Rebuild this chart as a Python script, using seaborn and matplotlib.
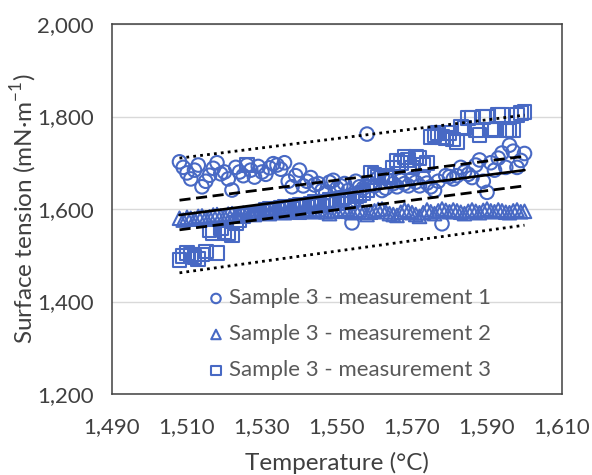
import matplotlib
matplotlib.use('Agg')
import matplotlib.pyplot as plt
import pandas as pd
import seaborn as sns
from matplotlib.ticker import FuncFormatter

# Temperatures (degC) of the measurement points
temperature = list(range(1508, 1601))

# Surface tension of the three measurements (mN/m), one value per degree
measurement_1 = [1702, 1690, 1678, 1665, 1684, 1695, 1648, 1660, 1673, 1688,
                 1700, 1676, 1680, 1665, 1641, 1690, 1680, 1672, 1695, 1684,
                 1669, 1692, 1680, 1675, 1689, 1698, 1695, 1686, 1700, 1660,
                 1648, 1672, 1684, 1650, 1660, 1668, 1652, 1655, 1640, 1635,
                 1658, 1662, 1645, 1650, 1655, 1640, 1570, 1660, 1648, 1645,
                 1762, 1655, 1650, 1668, 1640, 1645, 1660, 1655, 1648, 1662,
                 1655, 1650, 1665, 1658, 1650, 1668, 1656, 1648, 1640, 1660,
                 1568, 1672, 1670, 1665, 1672, 1690, 1680, 1675, 1668, 1695,
                 1706, 1660, 1636, 1700, 1684, 1710, 1721, 1690, 1738, 1725,
                 1690, 1705, 1720]
measurement_2 = [1580, 1576, 1582, 1580, 1578, 1584, 1585, 1581, 1583, 1587,
                 1588, 1585, 1584, 1589, 1590, 1587, 1586, 1591, 1592, 1589,
                 1588, 1593, 1594, 1591, 1590, 1595, 1596, 1593, 1592, 1597,
                 1598, 1595, 1593, 1597, 1600, 1596, 1594, 1599, 1598, 1594,
                 1590, 1595, 1596, 1599, 1600, 1595, 1592, 1597, 1598, 1593,
                 1588, 1593, 1596, 1599, 1600, 1594, 1590, 1588, 1586, 1593,
                 1598, 1595, 1592, 1588, 1584, 1592, 1598, 1594, 1590, 1596,
                 1600, 1597, 1594, 1598, 1596, 1593, 1590, 1595, 1598, 1595,
                 1592, 1597, 1600, 1596, 1594, 1598, 1596, 1593, 1592, 1596,
                 1598, 1594, 1595]
measurement_3 = [1490, 1498, 1505, 1500, 1496, 1492, 1502, 1508, 1555, 1548,
                 1505, 1558, 1550, 1547, 1544, 1570, 1575, 1585, 1695, 1588,
                 1590, 1592, 1595, 1598, 1600, 1596, 1598, 1602, 1605, 1603,
                 1600, 1606, 1610, 1608, 1605, 1612, 1615, 1611, 1608, 1616,
                 1620, 1614, 1612, 1622, 1625, 1620, 1618, 1628, 1630, 1635,
                 1640, 1678, 1675, 1669, 1670, 1672, 1668, 1690, 1705, 1700,
                 1712, 1706, 1690, 1712, 1710, 1695, 1700, 1756, 1760, 1764,
                 1756, 1753, 1764, 1750, 1745, 1777, 1775, 1797, 1798, 1770,
                 1760, 1799, 1800, 1771, 1772, 1803, 1803, 1770, 1770, 1771,
                 1803, 1807, 1810]

labels = ['Sample 3 - measurement 1', 'Sample 3 - measurement 2',
          'Sample 3 - measurement 3']

# Trend line and bands, read at both ends of the temperature range
fit_temperature = [1508, 1600]
fit_line = [1587, 1684]
inner_upper = [1619, 1714]
inner_lower = [1555, 1650]
outer_upper = [1710, 1803]
outer_lower = [1462, 1565]

sns.set_style('white')
plt.rcParams['font.family'] = ['Lato', 'DejaVu Sans']
plt.rcParams['mathtext.fontset'] = 'custom'
plt.rcParams['mathtext.rm'] = 'Lato'

blue = '#4869c4'
text_grey = '#595959'

fig = plt.figure(figsize=(5.92, 4.75), dpi=100)
ax = fig.add_axes([112 / 592, 1 - 394 / 475, 450 / 592, 370 / 475])

df = pd.DataFrame({'temperature': temperature * 3,
                   'value': measurement_1 + measurement_2 + measurement_3,
                   'series': sum([[l] * len(temperature) for l in labels], [])})

markers = ['o', '^', 's']
for lab, mk in zip(labels, markers):
    d = df[df.series == lab]
    sns.scatterplot(x=d.temperature, y=d.value, marker=mk, s=95,
                    facecolors='none', edgecolor=blue, linewidth=1.5,
                    ax=ax, label=lab, zorder=3)

ax.plot(fit_temperature, fit_line, color='black', lw=1.9, zorder=4)
for band in (inner_upper, inner_lower):
    ax.plot(fit_temperature, band, color='black', lw=2, ls=(0, (4, 2)), zorder=4)
for band in (outer_upper, outer_lower):
    ax.plot(fit_temperature, band, color='black', lw=2, ls=(0, (1, 1.5)), zorder=4)

ax.set_xlim(1490, 1610)
ax.set_ylim(1200, 2000)
ax.set_xticks(range(1490, 1611, 20))
ax.set_yticks(range(1200, 2001, 200))
fmt = FuncFormatter(lambda v, p: f'{v:,.0f}')
ax.xaxis.set_major_formatter(fmt)
ax.yaxis.set_major_formatter(fmt)
ax.yaxis.grid(True, color='#d9d9d9', lw=1)
ax.set_axisbelow(True)
for sp in ax.spines.values():
    sp.set_color('#404040')
    sp.set_linewidth(1.1)
ax.tick_params(axis='both', direction='inout', length=7, width=1,
               color='#404040', labelsize=16, labelcolor='#404040')
ax.tick_params(axis='y', pad=9.5)
ax.tick_params(axis='x', pad=13)
ax.set_xlabel('Temperature (°C)', fontsize=17.5, color='#404040', labelpad=11)
ax.set_ylabel('Surface tension (mN·m$^{-1}$)', fontsize=17.5, color='#404040', labelpad=-1)

handles, labs = ax.get_legend_handles_labels()
leg = ax.legend(handles, labs, loc='lower left', bbox_to_anchor=(0.157, -0.017),
                frameon=False, fontsize=16, handletextpad=0.0, labelspacing=0.72,
                markerscale=0.7, handlelength=1.2)
for t in leg.get_texts():
    t.set_color(text_grey)

fig.savefig('out.png', dpi=100)
